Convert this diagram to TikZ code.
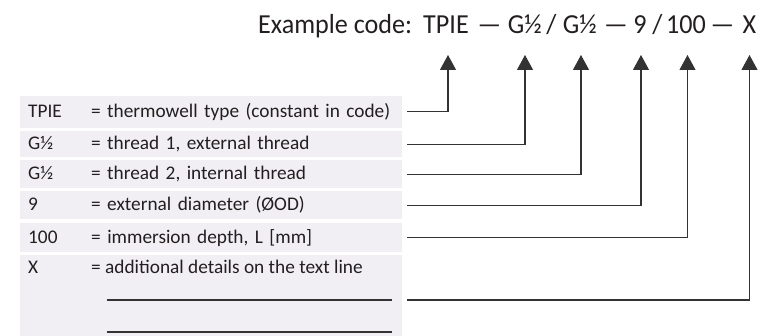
\documentclass[tikz,border=0pt]{standalone}
\usepackage{fontspec}
\setmainfont{Carlito}
\newfontfamily\titlefont[FakeStretch=0.95]{Carlito}
\usetikzlibrary{arrows.meta}
\definecolor{boxgray}{HTML}{F1EFF3}
\definecolor{ink}{HTML}{231F20}
\definecolor{linec}{HTML}{333333}
\begin{document}
\begin{tikzpicture}[x=1pt,y=-1pt,
  ttok/.style={inner sep=0pt, anchor=base, text=ink, font=\titlefont\fontsize{27.5}{30}\selectfont},
  rowbox/.style={fill=boxgray, draw=none, anchor=north west, minimum width=382pt,
    text width=366pt, inner xsep=8pt, inner ysep=0pt, align=left, text=ink,
    font=\fontsize{19.3}{21}\selectfont},
  rowtext/.style={inner sep=0pt, anchor=base west, text=ink, font=\fontsize{19.3}{21}\selectfont},
  conn/.style={draw=linec, line width=1.1pt},
  arr/.style={conn, -{Triangle[width=16pt,length=15pt]}}
]
\useasboundingbox (0,0) rectangle (763,336);
% title
\node[ttok, anchor=base west] (t0) at (258,34) {Example code:};
\node[ttok] (t1) at (446,34) {TPIE};
\node[ttok] (t2) at (489.5,34) {—};
\node[ttok] (t3) at (525,34) {G½};
\node[ttok] (t4) at (551.5,34) {/};
\node[ttok] (t5) at (580,34) {G½};
\node[ttok] (t6) at (616,34) {—};
\node[ttok] (t7) at (640,34) {9};
\node[ttok] (t8) at (657.5,34) {/};
\node[ttok] (t9) at (686,34) {100};
\node[ttok] (t10) at (722.5,34) {—};
\node[ttok] (t11) at (749.5,34) {X};
% arrow tips
\coordinate (a1) at (448,55);
\coordinate (a2) at (525,55);
\coordinate (a3) at (581,55);
\coordinate (a4) at (641,55);
\coordinate (a5) at (687.5,55);
\coordinate (a6) at (749.5,55);
% rows
\node[rowbox, minimum height=31.5pt] (r1) at (20,96) {\makebox[63pt][l]{TPIE}= thermowell type (constant in code)};
\node[rowbox, minimum height=26pt] (r2) at (20,131) {\makebox[63pt][l]{G½}= thread 1, external thread};
\node[rowbox, minimum height=28pt] (r3) at (20,160) {\makebox[63pt][l]{G½}= thread 2, internal thread};
\node[rowbox, minimum height=28pt] (r4) at (20,191) {\makebox[63pt][l]{9}= external diameter (ØOD)};
\node[rowbox, minimum height=29pt] (r5) at (20,223) {\makebox[63pt][l]{100}= immersion depth, L [mm]};
\node[rowbox, minimum height=81pt] (r6) at (20,255) {};
\node[rowtext] (l6) at (28,274) {X};
\node[rowtext] (d6) at (91,274) {= additional details on the text line};
\coordinate (u1s) at (107,300);
\coordinate (u1e) at (392,300);
\coordinate (u2s) at (107,332);
\coordinate (u2e) at (392,332);
\draw[conn] (u1s) -- (u1e);
\draw[conn] (u2s) -- (u2e);
% connectors
\draw[arr] ([xshift=5pt]r1.east) -| (a1);
\draw[arr] ([xshift=5pt]r2.east) -| (a2);
\draw[arr] ([xshift=5pt]r3.east) -| (a3);
\draw[arr] ([xshift=5pt]r4.east) -| (a4);
\draw[arr] ([xshift=5pt]r5.east) -| (a5);
\draw[arr] ([xshift=15pt]u1e) -| (a6);
\end{tikzpicture}
\end{document}
